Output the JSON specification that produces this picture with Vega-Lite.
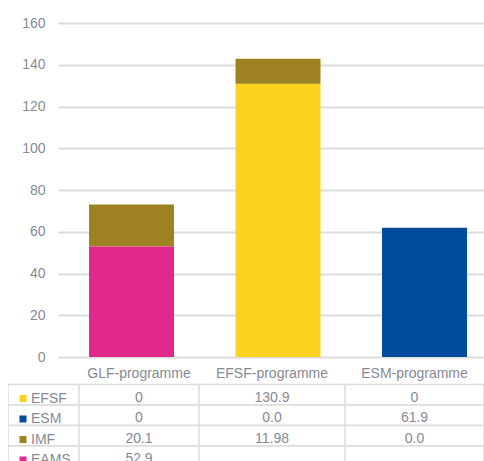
{
  "$schema": "https://vega.github.io/schema/vega-lite/v6.json",
  "padding": {"left": 8, "top": 16, "right": 0, "bottom": 0},
  "background": "white",
  "config": {"view": {"stroke": null}, "font": "Liberation Sans"},
  "datasets": {
    "cells": [
      {"programme": "GLF-programme", "series": "EFSF", "value": 0, "label": "0"},
      {"programme": "GLF-programme", "series": "ESM", "value": 0, "label": "0"},
      {"programme": "GLF-programme", "series": "IMF", "value": 20.1, "label": "20.1"},
      {"programme": "GLF-programme", "series": "EAMS", "value": 52.9, "label": "52.9"},
      {"programme": "EFSF-programme", "series": "EFSF", "value": 130.9, "label": "130.9"},
      {"programme": "EFSF-programme", "series": "ESM", "value": 0, "label": "0.0"},
      {"programme": "EFSF-programme", "series": "IMF", "value": 11.98, "label": "11.98"},
      {"programme": "EFSF-programme", "series": "EAMS", "value": null, "label": ""},
      {"programme": "ESM-programme", "series": "EFSF", "value": 0, "label": "0"},
      {"programme": "ESM-programme", "series": "ESM", "value": 61.9, "label": "61.9"},
      {"programme": "ESM-programme", "series": "IMF", "value": 0, "label": "0.0"},
      {"programme": "ESM-programme", "series": "EAMS", "value": null, "label": ""}
    ]
  },
  "data": {"name": "cells"},
  "spacing": 0,
  "resolve": {"scale": {"x": "independent", "y": "independent"}},
  "vconcat": [
    {
      "spacing": 0,
      "resolve": {"scale": {"x": "independent", "y": "independent"}},
      "hconcat": [
        {
          "width": 1, "height": 334,
          "data": {"values": []},
          "mark": "point"
        },
        {
          "width": 426,
          "height": 334,
          "mark": {"type": "bar"},
          "encoding": {
            "x": {
              "field": "programme", "type": "nominal",
              "sort": ["GLF-programme", "EFSF-programme", "ESM-programme"],
              "scale": {"paddingInner": 0.42, "paddingOuter": 0.164, "align": 0.646},
              "axis": null
            },
            "y": {
              "field": "value", "type": "quantitative", "stack": "zero",
              "scale": {"domain": [0, 160]},
              "axis": {
                "values": [0, 20, 40, 60, 80, 100, 120, 140, 160],
                "title": null, "domain": false, "ticks": false,
                "labelPadding": 13, "labelFontSize": 14, "labelColor": "#868a94",
                "gridColor": "#dcdcdc", "gridWidth": 2, "minExtent": 49
              }
            },
            "color": {
              "field": "series", "type": "nominal",
              "scale": {"domain": ["EFSF", "ESM", "IMF", "EAMS"], "range": ["#fcd21f", "#004b9b", "#9e8121", "#e0298b"]},
              "legend": {
                "orient": "none", "legendX": 8, "legendY": 368.5, "title": null,
                "symbolType": "square", "symbolSize": 49, "symbolStrokeWidth": 0,
                "labelFontSize": 14, "labelColor": "#868a94", "labelOffset": 1,
                "rowPadding": 6.5, "padding": 0, "direction": "vertical"
              }
            },
            "order": {"field": "value", "sort": "descending"}
          }
        }
      ]
    },
    {
      "bounds": "flush",
      "spacing": 0,
      "resolve": {"scale": {"x": "independent", "y": "independent"}},
      "hconcat": [
        {
          "width": 71, "height": 97,
          "transform": [{"filter": "datum.programme === 'GLF-programme'"}],
          "mark": {"type": "rect", "fill": "white", "stroke": "#dcdcdc", "strokeWidth": 1.5, "clip": true},
          "encoding": {
            "x": {"field": "programme", "type": "nominal", "axis": null, "scale": {"paddingInner": 0, "paddingOuter": 0}},
            "y": {"field": "series", "type": "nominal", "axis": null, "scale": {"domain": ["header", "EFSF", "ESM", "IMF", "EAMS"], "range": [0, 102.5], "paddingInner": 0, "paddingOuter": 0}}
          }
        },
        {
          "width": 120, "height": 97,
          "transform": [{"filter": "datum.programme === 'GLF-programme'"}],
          "encoding": {
            "x": {"field": "programme", "type": "nominal", "axis": null, "scale": {"paddingInner": 0, "paddingOuter": 0}},
            "y": {"field": "series", "type": "nominal", "axis": null, "scale": {"domain": ["header", "EFSF", "ESM", "IMF", "EAMS"], "range": [0, 102.5], "paddingInner": 0, "paddingOuter": 0}}
          },
          "layer": [
            {"mark": {"type": "rect", "fill": "white", "stroke": "#dcdcdc", "strokeWidth": 1.5, "clip": true}},
            {"mark": {"type": "text", "fontSize": 14, "color": "#868a94", "dy": 3, "clip": true}, "encoding": {"text": {"field": "label"}}},
            {"transform": [{"filter": "datum.series === 'EFSF'"}], "mark": {"type": "text", "fontSize": 14, "color": "#868a94"}, "encoding": {"y": {"datum": "header"}, "text": {"field": "programme"}}}
          ]
        },
        {
          "width": 146, "height": 97,
          "transform": [{"filter": "datum.programme === 'EFSF-programme'"}],
          "encoding": {
            "x": {"field": "programme", "type": "nominal", "axis": null, "scale": {"paddingInner": 0, "paddingOuter": 0}},
            "y": {"field": "series", "type": "nominal", "axis": null, "scale": {"domain": ["header", "EFSF", "ESM", "IMF", "EAMS"], "range": [0, 102.5], "paddingInner": 0, "paddingOuter": 0}}
          },
          "layer": [
            {"mark": {"type": "rect", "fill": "white", "stroke": "#dcdcdc", "strokeWidth": 1.5, "clip": true}},
            {"mark": {"type": "text", "fontSize": 14, "color": "#868a94", "dy": 3, "clip": true}, "encoding": {"text": {"field": "label"}}},
            {"transform": [{"filter": "datum.series === 'EFSF'"}], "mark": {"type": "text", "fontSize": 14, "color": "#868a94"}, "encoding": {"y": {"datum": "header"}, "text": {"field": "programme"}}}
          ]
        },
        {
          "width": 139, "height": 97,
          "transform": [{"filter": "datum.programme === 'ESM-programme'"}],
          "encoding": {
            "x": {"field": "programme", "type": "nominal", "axis": null, "scale": {"paddingInner": 0, "paddingOuter": 0}},
            "y": {"field": "series", "type": "nominal", "axis": null, "scale": {"domain": ["header", "EFSF", "ESM", "IMF", "EAMS"], "range": [0, 102.5], "paddingInner": 0, "paddingOuter": 0}}
          },
          "layer": [
            {"mark": {"type": "rect", "fill": "white", "stroke": "#dcdcdc", "strokeWidth": 1.5, "clip": true}},
            {"mark": {"type": "text", "fontSize": 14, "color": "#868a94", "dy": 3, "clip": true}, "encoding": {"text": {"field": "label"}}},
            {"transform": [{"filter": "datum.series === 'EFSF'"}], "mark": {"type": "text", "fontSize": 14, "color": "#868a94"}, "encoding": {"y": {"datum": "header"}, "text": {"field": "programme"}}}
          ]
        }
      ]
    }
  ]
}
